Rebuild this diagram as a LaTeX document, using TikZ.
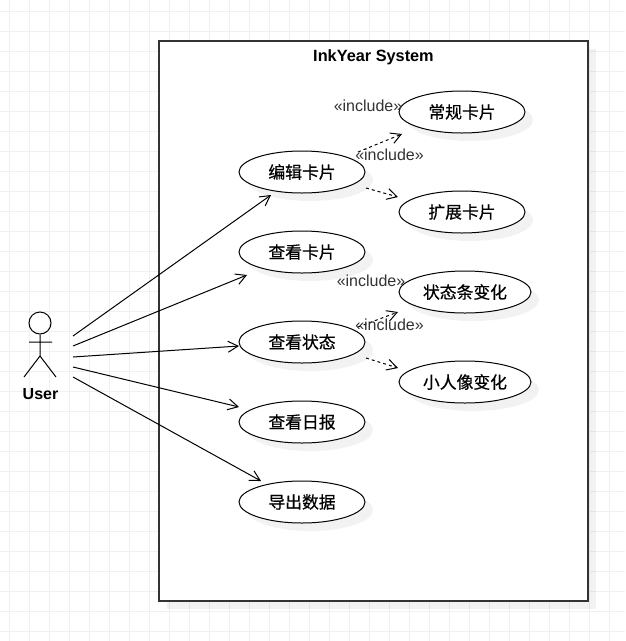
\documentclass[tikz,border=0pt]{standalone}
\usepackage{fontspec}
\setmainfont{Liberation Sans}
\newfontfamily\cjk[FakeBold=0.6]{Noto Sans CJK SC}
\usetikzlibrary{arrows.meta,shapes.geometric,shadows}

\tikzset{
    gridline/.style={draw=black!6,line width=0.8pt},
    softshadow/.style={general shadow={shadow xshift=8pt,shadow yshift=-8pt,fill=black,opacity=0.05}},
    ucase/.style={draw,ellipse,fill=white,line width=1pt,minimum width=126pt,minimum height=42pt,inner sep=0pt,softshadow,font=\fontsize{16.8}{18}\selectfont\cjk},
    incl/.style={text=black!80,font=\fontsize{16}{18}\selectfont,inner sep=0pt},
    assoc/.style={-{Straight Barb[length=10pt,width=11pt]},line width=1pt},
    dep/.style={-{Straight Barb[length=10pt,width=11pt]},line width=1pt,dash pattern=on 3pt off 3pt}
}

\begin{document}
\begin{tikzpicture}[x=1pt,y=-1pt]
    \useasboundingbox (0,0) rectangle (625,641);
    \foreach \i in {0,...,30} \draw[gridline] (9.5+20*\i,0) -- (9.5+20*\i,641);
    \foreach \i in {0,...,31} \draw[gridline] (0,11.5+20*\i) -- (625,11.5+20*\i);

    \node[draw=black!80,fill=white,line width=1.1pt,minimum width=429pt,minimum height=560pt,inner sep=0pt,softshadow] (sys) at (373.5,321) {};
    \node[font=\fontsize{16.3}{18}\selectfont\bfseries,inner sep=0pt] (systitle) at (373.5,57.5) {InkYear System};

    \node[ucase] (edit) at (302,172) {编辑卡片};
    \node[ucase] (view) at (302,252) {查看卡片};
    \node[ucase] (state) at (302,342) {查看状态};
    \node[ucase] (daily) at (302,422) {查看日报};
    \node[ucase] (export) at (302,502) {导出数据};

    \node[ucase] (normal) at (462,112) {常规卡片};
    \node[ucase] (extend) at (462,212) {扩展卡片};
    \node[ucase,minimum width=132pt] (bar) at (465,292) {状态条变化};
    \node[ucase,minimum width=132pt] (avatar) at (465,382) {小人像变化};

    % actor
    \node[draw,circle,line width=1pt,minimum size=22pt,inner sep=0pt] (head) at (40,323) {};
    \coordinate (hip) at (40,356);
    \coordinate (armL) at (29,342);
    \coordinate (armR) at (52,342);
    \coordinate (footL) at (24,377);
    \coordinate (footR) at (56,377);
    \draw[line width=1pt] (head.south) -- (hip) (armL) -- (armR) (footL) -- (hip) -- (footR);
    \node[font=\fontsize{16}{18}\selectfont\bfseries,inner sep=0pt] (user) at (40.5,394.5) {User};

    % associations
    \coordinate (u1) at (73,336);
    \coordinate (u2) at (73,346);
    \coordinate (u3) at (73,357);
    \coordinate (u4) at (73,367);
    \coordinate (u5) at (73,377);
    \coordinate (toedit) at (271,195);
    \coordinate (toview) at (247,275);
    \coordinate (tostate) at (239,346);
    \coordinate (todaily) at (239,407);
    \coordinate (toexport) at (261,481);
    \draw[assoc] (u1) -- (toedit);
    \draw[assoc] (u2) -- (toview);
    \draw[assoc] (u3) -- (tostate);
    \draw[assoc] (u4) -- (todaily);
    \draw[assoc] (u5) -- (toexport);

    % includes
    \coordinate (editA) at (358,152);
    \coordinate (editB) at (366,188);
    \coordinate (stateA) at (358,327);
    \coordinate (stateB) at (366,358);
    \coordinate (tonormal) at (402,134);
    \coordinate (toextend) at (398,197);
    \coordinate (tobar) at (398,312);
    \coordinate (toavatar) at (398,368);
    \draw[dep] (editA) -- (tonormal);
    \draw[dep] (editB) -- (toextend);
    \draw[dep] (stateA) -- (tobar);
    \draw[dep] (stateB) -- (toavatar);

    \node[incl] (inclnormal) at (368,106) {«include»};
    \node[incl] (inclextend) at (389.5,155) {«include»};
    \node[incl] (inclbar) at (371,281) {«include»};
    \node[incl] (inclavatar) at (389.5,325) {«include»};
\end{tikzpicture}
\end{document}
